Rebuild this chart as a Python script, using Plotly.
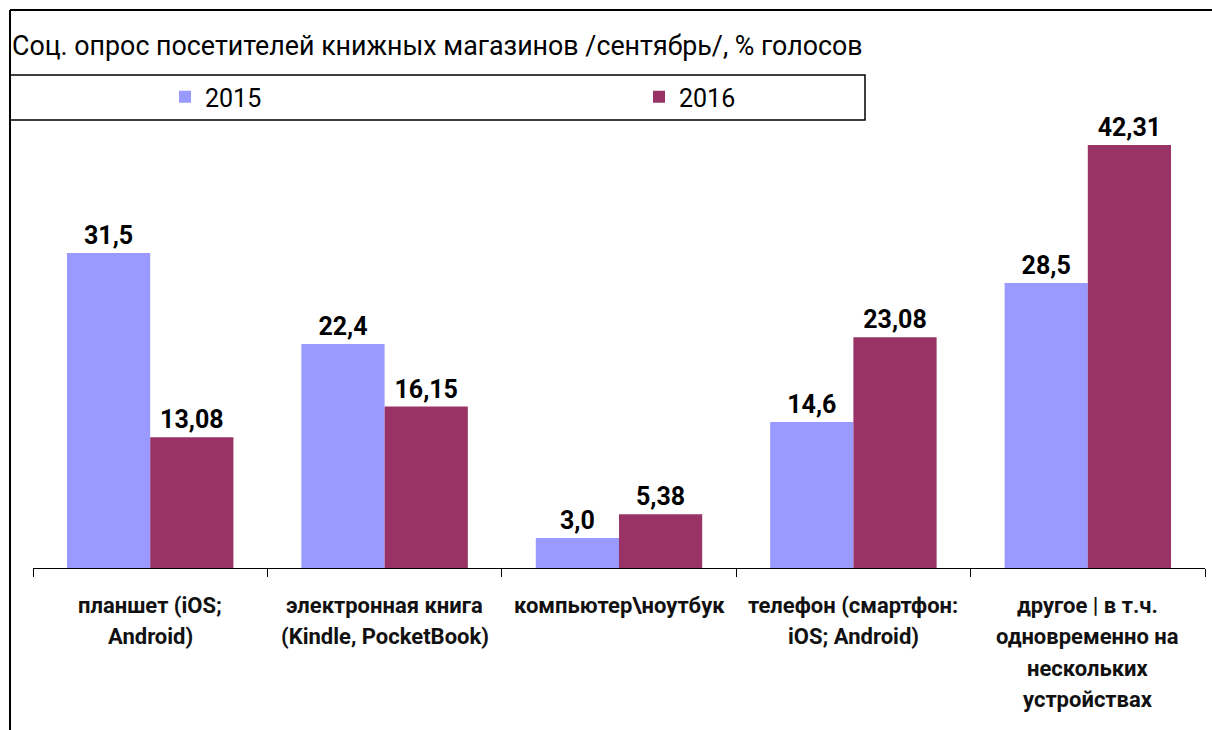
import plotly.graph_objects as go

categories = [
    "планшет (iOS;\nAndroid)",
    "электронная книга\n(Kindle, PocketBook)",
    "компьютер\\ноутбук",
    "телефон (смартфон:\niOS; Android)",
    "другое | в т.ч.\nодновременно на\nнескольких\nустройствах",
]
values_2015 = [31.5, 22.4, 3.0, 14.6, 28.5]
values_2016 = [13.08, 16.15, 5.38, 23.08, 42.31]
labels_2015 = ["31,5", "22,4", "3,0", "14,6", "28,5"]
labels_2016 = ["13,08", "16,15", "5,38", "23,08", "42,31"]
series_names = ["2015", "2016"]
title_text = "Соц. опрос посетителей книжных магазинов /сентябрь/, % голосов"

W, H = 1212, 730
ML, MR, MT, MB = 33, 7, 68, 162
PW = W - ML - MR
PH = H - MT - MB

def px_x(p):
    return (p - ML) / PW

def px_y(p):
    return (H - MB - p) / PH

FONT = "Roboto, 'Liberation Sans', Arial, sans-serif"

n = len(categories)
fig = go.Figure()
fig.add_trace(go.Bar(
    x=list(range(n)), y=values_2015, name=series_names[0],
    marker=dict(color="#9999FF", line=dict(width=0)),
    text=labels_2015, textposition="outside",
    textfont=dict(family=FONT, size=25, color="black", weight="bold"),
    cliponaxis=False, hoverinfo="skip",
))
fig.add_trace(go.Bar(
    x=list(range(n)), y=values_2016, name=series_names[1],
    marker=dict(color="#993366", line=dict(width=0)),
    text=labels_2016, textposition="outside",
    textfont=dict(family=FONT, size=25, color="black", weight="bold"),
    cliponaxis=False, hoverinfo="skip",
))

annotations = []
for i, cat in enumerate(categories):
    for j, line in enumerate(cat.split("\n")):
        annotations.append(dict(
            x=i, xref="x", y=0, yref="paper", yanchor="middle",
            yshift=-(37 + 31.5 * j), text=line, showarrow=False,
            font=dict(family=FONT, size=22, color="#111111", weight="bold"),
        ))

shapes = [
    dict(type="line", xref="paper", yref="paper", x0=px_x(10), x1=px_x(1212), y0=px_y(10), y1=px_y(10),
         line=dict(color="black", width=2)),
    dict(type="line", xref="paper", yref="paper", x0=px_x(10), x1=px_x(10), y0=px_y(10), y1=px_y(730),
         line=dict(color="black", width=2)),
    dict(type="rect", xref="paper", yref="paper", x0=px_x(10), x1=px_x(865), y0=px_y(75), y1=px_y(120),
         line=dict(color="black", width=1.5)),
]

fig.update_layout(
    width=W, height=H,
    margin=dict(l=ML, r=MR, t=MT, b=MB),
    paper_bgcolor="white", plot_bgcolor="white",
    barmode="group", bargap=0.29, bargroupgap=0,
    title=dict(text=title_text, xref="container", yref="container", x=12 / W, xanchor="left",
               y=1 - 46 / H, yanchor="middle",
               font=dict(family=FONT, size=26.8, color="black")),
    legend=dict(orientation="h", x=px_x(165), xanchor="left", y=px_y(97), yanchor="middle",
                entrywidth=429, entrywidthmode="pixels", bgcolor="rgba(0,0,0,0)",
                font=dict(family=FONT, size=25, color="black"), traceorder="normal"),
    xaxis=dict(range=[-0.5, n - 0.5], showline=True, linecolor="black", linewidth=1,
               ticks="outside", ticklen=8, tickcolor="black", tickwidth=1,
               tickvals=[i - 0.5 for i in range(n + 1)], showticklabels=False,
               showgrid=False, zeroline=False, type="linear"),
    yaxis=dict(range=[0, 50], visible=False, showgrid=False, zeroline=False),
    annotations=annotations,
    shapes=shapes,
    hovermode=False,
)

fig.write_html("out.html", config={"displayModeBar": False},
               post_script="document.body.style.margin='0';document.body.style.padding='0';")
